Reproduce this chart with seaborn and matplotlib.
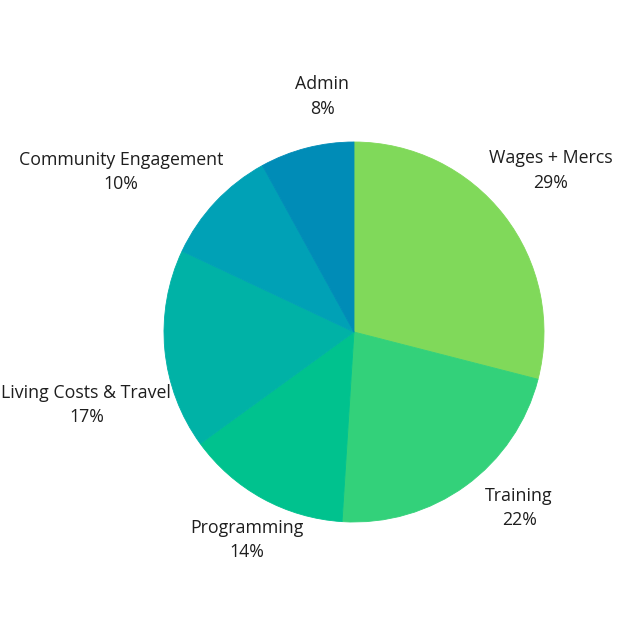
import numpy as np
import matplotlib
matplotlib.use("Agg")
import matplotlib.pyplot as plt
import seaborn as sns

# ---- data ----
categories = ["Wages + Mercs", "Training", "Programming",
              "Living Costs & Travel", "Community Engagement", "Admin"]
percent = [29, 22, 14, 17, 10, 8]

# ---- style ----
colors = ["#80d95a", "#33d17a", "#00c28e", "#00b2a6", "#00a1b6", "#008cb7"]
label_radius = [1.34, 1.27, 1.23, 1.46, 1.49, 1.25]
label_nudge_deg = [1.6, 7.2, 1.6, 9.8, 8.7, -6.7]

sns.set_theme(style="white")
plt.rcParams["font.family"] = ["Open Sans", "DejaVu Sans"]

W = H = 637
R_PX = 190.0
CX, CY = 354.0, 305.0  # pie centre in pixels from bottom-left

fig = plt.figure(figsize=(W / 100, H / 100), dpi=100)
ax = fig.add_axes([0, 0, 1, 1])
ax.axis("off")

wedges, _ = ax.pie(percent, colors=colors, startangle=90, counterclock=False,
                   radius=1.0, wedgeprops=dict(linewidth=0.6))
for w, c in zip(wedges, colors):
    w.set_edgecolor(c)
ax.set_aspect("equal", adjustable="box")
ax.set_xlim(-CX / R_PX, (W - CX) / R_PX)
ax.set_ylim(-CY / R_PX, (H - CY) / R_PX)

total = float(sum(percent))
cum = 0.0
for name, val, r, nd in zip(categories, percent, label_radius, label_nudge_deg):
    mid = cum + val / 2.0
    cum += val
    theta = np.deg2rad(90 - 360 * mid / total + nd)
    ax.text(r * np.cos(theta), r * np.sin(theta), f"{name}\n{val}%",
            ha="center", va="center", multialignment="center",
            fontsize=12.8, color="#1e1e1e", linespacing=1.45)

fig.savefig("out.png", dpi=100, facecolor="white")
